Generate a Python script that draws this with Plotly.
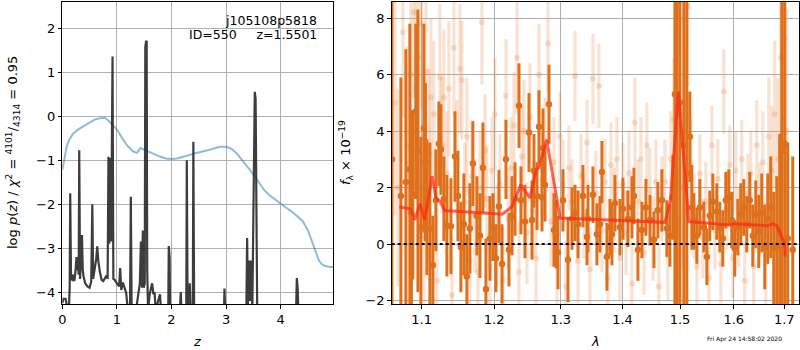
import plotly.graph_objects as go

# ---------------- Left panel: p(z) ----------------
z_pz = [0.00, 0.02, 0.06, 0.09, 0.12, 0.135, 0.145, 0.16, 0.18, 0.20, 0.22, 0.24, 0.26, 0.27, 0.28, 0.30,
        0.31, 0.325, 0.34, 0.36, 0.375, 0.39, 0.42, 0.46, 0.50, 0.53, 0.55, 0.565, 0.59, 0.62, 0.64,
        0.66, 0.69, 0.72, 0.75, 0.78, 0.81, 0.83, 0.845, 0.86, 0.875, 0.895, 0.92, 0.935, 0.96, 1.00,
        1.04, 1.06, 1.08, 1.11, 1.14, 1.17, 1.20, 1.24, 1.255, 1.27, 1.34, 1.42, 1.44, 1.46, 1.475,
        1.49, 1.51, 1.52, 1.535, 1.545, 1.555, 1.57, 1.60, 1.62, 1.645, 1.67, 1.69, 1.71, 1.77, 1.79,
        1.81, 1.94, 1.95, 1.965, 1.975, 2.15, 2.17, 2.185, 2.27, 2.28, 2.295, 2.32, 2.335, 2.35, 2.39,
        2.40, 2.415, 2.96, 2.97, 2.985, 3.37, 3.385, 3.40, 3.42, 3.44, 3.46, 3.48, 3.51, 3.525, 3.54,
        3.555, 3.57, 4.28, 4.295, 4.31, 4.325, 4.97]
logp = [-4.25, -4.15, -4.15, -4.35, -4.4, -3.9, -1.75, -3.7, -3.72, -3.6, -3.75, -3.55, -3.2, -3.5, -3.3, -3.6,
        -0.77, -3.7, -3.3, -2.7, -3.5, -3.65, -3.8, -3.87, -3.9, -3.75, -2.0, -3.7, -3.5, -3.25, -2.96,
        -3.3, -3.55, -3.72, -3.75, -3.68, -3.62, -3.7, -0.92, -2.9, -0.95, -2.85, 1.36, -3.7, -3.72, -3.8,
        -3.87, -3.45, -3.95, -3.78, -3.92, -4.02, -4.4, -4.4, -1.83, -4.5, -4.5, -3.8, -2.85, -3.9, -2.6,
        -3.9, -3.8, 1.58, 1.72, 1.7, -3.5, -4.4, -4.05, -3.95, -3.8, -4.05, -4.0, -4.4, -4.1, -4.05,
        -4.5, -4.5, -2.95, -3.2, -4.5, -4.5, -4.0, -4.5, -4.5, -1.0, -4.5, -4.5, -3.8, -4.5, -4.5,
        -0.58, -4.5, -4.5, -3.92, -4.5, -4.5, -2.77, -4.3, -3.28, -4.2, -3.28, -4.4, -1.5, 0.56, 0.4,
        -3.0, -4.5, -4.5, -3.68, -3.9, -4.5, -4.5]

z_chi = [0.0, 0.04, 0.08, 0.12, 0.2, 0.3, 0.4, 0.5, 0.6, 0.7, 0.78, 0.85, 0.9, 1.0, 1.1, 1.2, 1.3, 1.37,
         1.43, 1.5, 1.6, 1.7, 1.8, 1.9, 2.0, 2.1, 2.2, 2.3, 2.4, 2.5, 2.6, 2.7, 2.8, 2.9, 3.0, 3.1, 3.2,
         3.3, 3.4, 3.5, 3.6, 3.7, 3.8, 3.9, 4.0, 4.1, 4.2, 4.3, 4.4, 4.5, 4.6, 4.7, 4.75, 4.8, 4.9, 4.97]
chi_scaled = [-1.22, -0.9, -0.69, -0.55, -0.39, -0.29, -0.22, -0.15, -0.07, -0.04, -0.03, -0.1, -0.16, -0.3,
              -0.5, -0.68, -0.8, -0.83, -0.72, -0.76, -0.8, -0.86, -0.92, -0.96, -0.97, -0.96, -0.93, -0.89,
              -0.85, -0.82, -0.80, -0.76, -0.72, -0.69, -0.69, -0.74, -0.85, -1.0, -1.15, -1.32, -1.5,
              -1.68, -1.80, -1.90, -2.0, -2.08, -2.16, -2.26, -2.38, -2.6, -2.95, -3.28, -3.36, -3.40,
              -3.43, -3.43]

z_ticks = [0, 1, 2, 3, 4]
logp_ticks = [-4, -3, -2, -1, 0, 1, 2]

# ---------------- Right panel: spectrum ----------------
lam_dark = [1.0615, 1.0730, 1.0794, 1.0846, 1.0866, 1.0885, 1.0924, 1.0951, 1.0990, 1.1030, 1.1051, 1.1070,
            1.1110, 1.1150,
            1.1190, 1.1230, 1.1257, 1.1298, 1.1339, 1.1394, 1.1449, 1.1490, 1.1531, 1.1572, 1.1614, 1.1656,
            1.1698, 1.1755, 1.1798, 1.1840, 1.1883, 1.1940, 1.1983, 1.2026, 1.2070, 1.2114, 1.2172, 1.2216,
            1.2261, 1.2305, 1.2364, 1.2393, 1.2453, 1.2513, 1.2558, 1.2588, 1.2634, 1.2664, 1.2710, 1.2725,
            1.2756, 1.2817, 1.2894, 1.2925, 1.2956, 1.3034, 1.3113, 1.3176, 1.3224, 1.3271, 1.3350, 1.3415,
            1.3431, 1.3511, 1.3576, 1.3625, 1.3658, 1.3740, 1.3790, 1.3823, 1.3873, 1.3956, 1.4006, 1.4091,
            1.4159, 1.4193, 1.4261, 1.4329, 1.4399, 1.4468, 1.4538, 1.4607, 1.4677, 1.4765, 1.4819, 1.4872,
            1.4908, 1.4944, 1.4997, 1.5069, 1.5123, 1.5178, 1.5214, 1.5251, 1.5306, 1.5361, 1.5435, 1.5491,
            1.5546, 1.5602, 1.5677, 1.5734, 1.5790, 1.5847, 1.5904, 1.5961, 1.6019, 1.6077, 1.6135, 1.6193,
            1.6251, 1.6310, 1.6369, 1.6428, 1.6487, 1.6546, 1.6606, 1.6666, 1.6726, 1.6786, 1.6847, 1.6907,
            1.6948, 1.7009, 1.7070, 1.7173]
f_dark = [3.0, 1.7, 2.2, 2.65, 1.1, 1.75, 4.7, 3.3, 0.6, 4.1, 2.9, 1.3,
          0.55, -0.75,
          1.55, 3.55, 3.35, 1.6, 0.65, 0.63, 3.1, 1.7, -0.1, 0.7, -1.15, 0.55,
          2.85, 1.0, 0.3, 2.7, -1.6, 0.2, 0.6, -0.5, 1.33, -0.7, 3.0, -0.2,
          1.0, 1.6, 4.9, 1.55, 0.8, 3.95, 0.85, 2.6, 1.7, 4.15, 1.65, 3.4,
          2.1, 4.95, 0.5, 0.35, -0.3, 1.55, -0.55, 0.9, 1.1, 0.7, 1.7, 0.25,
          0.9, 1.75, 0.35, 0.7, 2.55, -0.45, 0.6, 0.35, 1.45, 0.6, 1.25, 0.9,
          1.3, 1.7, -0.2, 0.5, 1.3, 0.85, 0.15, 1.2, 1.55, 0.55, 0.3, 1.65,
          5.3, 5.3, 5.0, 3.5, 2.5, 3.8, 1.3, 0.8, 0.3, 1.3, 0.6, -0.45,
          1.0, 1.5, 1.15, 0.6, 0.2, 1.55, 1.65, 0.85, -0.15, 0.6, 1.05, 1.3,
          0.7, 1.55, 0.3, 1.05, 0.45, 1.1, -0.1, 0.9, 1.3, -0.15, -0.1, 0.4,
          3.3, 3.55, 0.2, -0.2]
e_dark = [12.0, 4.2, 4.7, 5.15, 3.6, 3.0, 3.1, 5.0, 3.2, 3.7, 2.8, 2.4,
          3.05, 1.75,
          1.8, 1.5, 1.6, 1.5, 1.8, 1.7, 1.6, 1.6, 1.6, 1.8, 1.5, 1.6,
          1.5, 1.4, 1.5, 1.6, 1.8, 1.5, 1.2, 1.2, 1.3, 1.4, 1.4, 1.3,
          1.4, 1.3, 1.5, 1.2, 1.3, 1.4, 1.4, 1.3, 1.2, 1.3, 1.2, 1.4,
          1.3, 1.4, 1.3, 1.2, 1.3, 1.1, 1.5, 1.1, 1.0, 1.2, 1.1, 1.0,
          1.2, 1.0, 1.1, 1.0, 1.1, 1.2, 1.0, 1.1, 1.0, 1.0, 1.1, 1.0,
          1.1, 1.0, 1.1, 1.0, 1.0, 0.9, 1.0, 1.0, 1.1, 1.0, 1.1, 1.5,
          9.0, 9.0, 10.0, 8.0, 9.0, 1.6, 1.5, 1.0, 1.0, 1.0, 0.9, 1.0,
          0.9, 1.0, 1.0, 0.9, 1.0, 1.0, 1.0, 1.0, 1.0, 1.0, 1.1, 1.0,
          1.0, 1.0, 1.1, 1.2, 1.3, 1.4, 1.5, 1.6, 1.8, 2.0, 2.5, 3.5,
          7.0, 8.0, 3.4, 3.3]

lam_light = [1.0653, 1.0692, 1.0756, 1.0807, 1.0859, 1.0898, 1.0924, 1.0964, 1.1003, 1.1030, 1.1057, 1.1097,
             1.1123, 1.1163, 1.1204, 1.1244, 1.1271, 1.1298, 1.1339, 1.1366, 1.1408, 1.1435, 1.1476, 1.1517,
             1.1545, 1.1586, 1.1614, 1.1656, 1.1684, 1.1727, 1.1769, 1.1798, 1.1826, 1.1869, 1.1897, 1.1940,
             1.1969, 1.2012, 1.2041, 1.2085, 1.2128, 1.2172, 1.2202, 1.2246, 1.2290, 1.2334, 1.2364, 1.2408,
             1.2438, 1.2483, 1.2528, 1.2573, 1.2619, 1.2664, 1.2710, 1.2756, 1.2802, 1.2848, 1.2894, 1.2941,
             1.2987, 1.3034, 1.3081, 1.3128, 1.3176, 1.3224, 1.3271, 1.3319, 1.3367, 1.3415, 1.3463, 1.3511,
             1.3560, 1.3609, 1.3658, 1.3707, 1.3757, 1.3806, 1.3856, 1.3906, 1.3956, 1.4006, 1.4057, 1.4108,
             1.4159, 1.4210, 1.4261, 1.4312, 1.4364, 1.4416, 1.4468, 1.4520, 1.4572, 1.4625, 1.4677, 1.4730,
             1.4783, 1.4837, 1.4890, 1.4926, 1.4962, 1.4997, 1.5033, 1.5087, 1.5142, 1.5196, 1.5251, 1.5306,
             1.5361, 1.5416, 1.5472, 1.5528, 1.5584, 1.5640, 1.5696, 1.5753, 1.5809, 1.5866, 1.5923, 1.5981,
             1.6038, 1.6096, 1.6154, 1.6212, 1.6271, 1.6330, 1.6388, 1.6447, 1.6506, 1.6566, 1.6626, 1.6686,
             1.6746, 1.6806, 1.6867, 1.6928, 1.6968, 1.7009, 1.7050]
f_light = [5.0, 2.0, 7.5, 3.5, 6.0, 8.2, 5.5, 6.6, 7.8, 0.2, 6.1, 3.2,
           5.2, 4.6, -1.3, 5.9, 3.5, 5.2, 2.5, 5.5, -1.8, 6.95, 3.0, 6.2,
           5.8, 1.5, 3.8, -0.6, 2.4, 1.0, -1.0, 2.0, 7.85, 3.3, 1.6, -0.8,
           2.6, 4.6, 0.3, 2.1, -1.3, 5.25, 0.9, 2.7, 4.2, 6.6, -1.0, 3.1,
           4.0, 0.4, 4.5, 1.2, -0.5, 6.0, 2.3, 3.6, 7.1, 0.8, 2.9, -0.8,
           3.8, 2.1, -1.5, 2.7, 1.5, 5.95, -0.6, 2.4, 1.0, 3.6, -0.9, 5.85,
           1.8, 5.6, 0.5, 2.2, -1.2, 2.8, 1.2, 3.0, -0.5, 2.1, 0.4, 2.5,
           -1.4, 4.3, 1.5, 3.0, -0.3, 3.5, 1.9, 0.2, 2.2, -1.5, 1.6, 2.2,
           -0.4, 3.0, 4.4, 6.0, -1.8, 8.0, 2.0, 4.0, 8.4, 2.8, 1.0, -0.8,
           2.5, 0.2, 1.5, -1.2, 3.5, 0.5, 2.3, -0.7, 5.4, 1.2, 2.8, -0.5,
           2.6, 0.6, 3.0, -1.3, 1.8, 2.5, -0.8, 3.5, 1.2, 2.9, -0.4, 3.8,
           2.6, 4.6, 3.0, 6.6, 8.2, 7.3, 4.0]
e_light = [4.0, 3.5, 3.0, 3.5, 3.0, 3.0, 3.5, 3.0, 3.0, 2.8, 2.8, 3.0,
           2.8, 2.6, 2.6, 2.6, 2.4, 2.4, 2.2, 2.4, 2.1, 2.4, 2.1, 2.3,
           2.1, 2.1, 2.1, 2.1, 2.0, 2.0, 2.0, 2.0, 2.2, 2.0, 1.9, 1.9,
           1.9, 2.0, 1.8, 1.8, 1.9, 2.0, 1.8, 1.8, 1.9, 2.0, 1.8, 1.8,
           1.8, 1.8, 1.9, 1.7, 1.7, 1.8, 1.7, 1.6, 1.8, 1.6, 1.6, 1.6,
           1.6, 1.6, 1.6, 1.5, 1.5, 1.6, 1.5, 1.5, 1.5, 1.5, 1.5, 1.6,
           1.5, 1.5, 1.5, 1.5, 1.5, 1.5, 1.5, 1.5, 1.5, 1.5, 1.5, 1.5,
           1.5, 1.6, 1.5, 1.5, 1.5, 1.5, 1.5, 1.5, 1.5, 1.5, 1.5, 1.5,
           1.6, 1.7, 2.2, 2.8, 2.8, 3.5, 2.8, 2.8, 2.8, 1.7, 1.5, 1.4,
           1.4, 1.4, 1.4, 1.4, 1.4, 1.4, 1.4, 1.4, 1.5, 1.4, 1.4, 1.4,
           1.4, 1.4, 1.4, 1.4, 1.4, 1.5, 1.5, 1.6, 1.7, 1.8, 1.9, 2.1,
           2.3, 2.6, 2.9, 3.8, 4.8, 4.8, 4.3]

lam_model = [1.071, 1.085, 1.091, 1.098, 1.104, 1.114, 1.119, 1.125, 1.131, 1.212, 1.226, 1.239, 1.253,
             1.262, 1.266, 1.278, 1.299, 1.473, 1.483, 1.497, 1.516, 1.592, 1.600, 1.664, 1.677, 1.685,
             1.700, 1.702]
f_model = [1.31, 1.25, 0.86, 1.43, 0.86, 2.40, 1.65, 1.50, 1.19, 1.06, 1.33, 2.10, 1.63,
           2.63, 2.70, 3.70, 0.92, 0.77, 1.57, 5.40, 0.80, 0.68, 0.72, 0.65, 0.72, 0.65,
           0.04, -0.44]

lam_ticks = [1.1, 1.2, 1.3, 1.4, 1.5, 1.6, 1.7]
flux_ticks = [-2, 0, 2, 4, 6, 8]

DARK = "rgba(222,112,28,1)"
LIGHT = "rgba(232,135,65,0.24)"
FONT = "DejaVu Sans"

fig = go.Figure()

fig.add_trace(go.Scatter(x=z_chi, y=chi_scaled, mode="lines", xaxis="x", yaxis="y",
                         line=dict(color="rgba(31,119,180,0.5)", width=2), showlegend=False))
fig.add_trace(go.Scatter(x=z_pz, y=logp, mode="lines", xaxis="x", yaxis="y",
                         line=dict(color="rgba(40,40,40,0.9)", width=2.2), showlegend=False))

fig.add_trace(go.Scatter(x=lam_light, y=f_light, mode="markers", xaxis="x2", yaxis="y2",
                         marker=dict(size=6, color=LIGHT),
                         error_y=dict(type="data", array=e_light, visible=True, thickness=3.2, width=0,
                                      color=LIGHT),
                         showlegend=False))
fig.add_trace(go.Scatter(x=lam_dark, y=f_dark, mode="markers", xaxis="x2", yaxis="y2",
                         marker=dict(size=6.5, color=DARK),
                         error_y=dict(type="data", array=e_dark, visible=True, thickness=3, width=0,
                                      color=DARK),
                         showlegend=False))
fig.add_trace(go.Scatter(x=lam_model, y=f_model, mode="lines", xaxis="x2", yaxis="y2",
                         line=dict(color="rgba(255,40,20,0.72)", width=3), showlegend=False))

axis_common = dict(showline=True, mirror=True, linecolor="black", linewidth=1,
                   showgrid=True, gridcolor="#b0b0b0", gridwidth=1, zeroline=False,
                   ticks="outside", ticklen=3.5, tickcolor="black", tickwidth=1, automargin=False,
                   tickfont=dict(family=FONT, size=13, color="black"))

ydom = [1 - 304 / 350, 1 - 1.7 / 350]

fig.update_layout(
    width=800, height=350, margin=dict(l=0, r=0, t=0, b=0, pad=0, autoexpand=False),
    paper_bgcolor="white", plot_bgcolor="white",
    font=dict(family=FONT, size=13, color="black"),
    xaxis=dict(domain=[62.3 / 800, 333.3 / 800], range=[0, 4.963], anchor="y",
               tickvals=z_ticks, ticktext=[str(t) for t in z_ticks], **axis_common),
    yaxis=dict(domain=ydom, range=[-4.27, 2.61], anchor="x",
               tickvals=logp_ticks, ticktext=[str(t).replace("-", "\u2212") for t in logp_ticks],
               **axis_common),
    xaxis2=dict(domain=[391.7 / 800, 799 / 800], type="log", range=[0.02580, 0.23811], anchor="y2",
                tickvals=lam_ticks, ticktext=[f"{t:.1f}" for t in lam_ticks], **axis_common),
    yaxis2=dict(domain=ydom, range=[-2.12, 8.58], anchor="x2",
                tickvals=flux_ticks, ticktext=[str(t).replace("-", "\u2212") for t in flux_ticks],
                **axis_common),
    shapes=[dict(type="line", xref="x2 domain", yref="y2", x0=0, x1=1, y0=0, y1=0,
                 line=dict(color="black", width=2, dash="dot"))],
)

def ann(text, x, y, size=13, angle=0, xanchor="center", yanchor="middle"):
    fig.add_annotation(text=text, x=x / 800, y=1 - y / 350, xref="paper", yref="paper",
                       showarrow=False, textangle=angle, xanchor=xanchor, yanchor=yanchor,
                       font=dict(family=FONT, size=size, color="black"))

ann("j105108p5818", 319, 20, size=12.5, xanchor="right")
ann("ID=550\u00a0\u00a0\u00a0\u00a0\u00a0z=1.5501", 319, 34, size=12.5, xanchor="right")
ann("<i>z</i>", 197, 341)
ann("<i>λ</i>", 595, 341)
ann("log <i>p</i>(<i>z</i>) / <i>χ</i><sup>2</sup> = <sup>4101</sup>/<sub>4314</sub> = 0.95", 13, 153, angle=-90)
ann("<i>f</i><sub>λ</sub> × 10<sup>−19</sup>", 346, 153, angle=-90)
ann("Fri Apr 24 14:58:02 2020", 744, 339, size=6)

fig.write_html("out.html")
